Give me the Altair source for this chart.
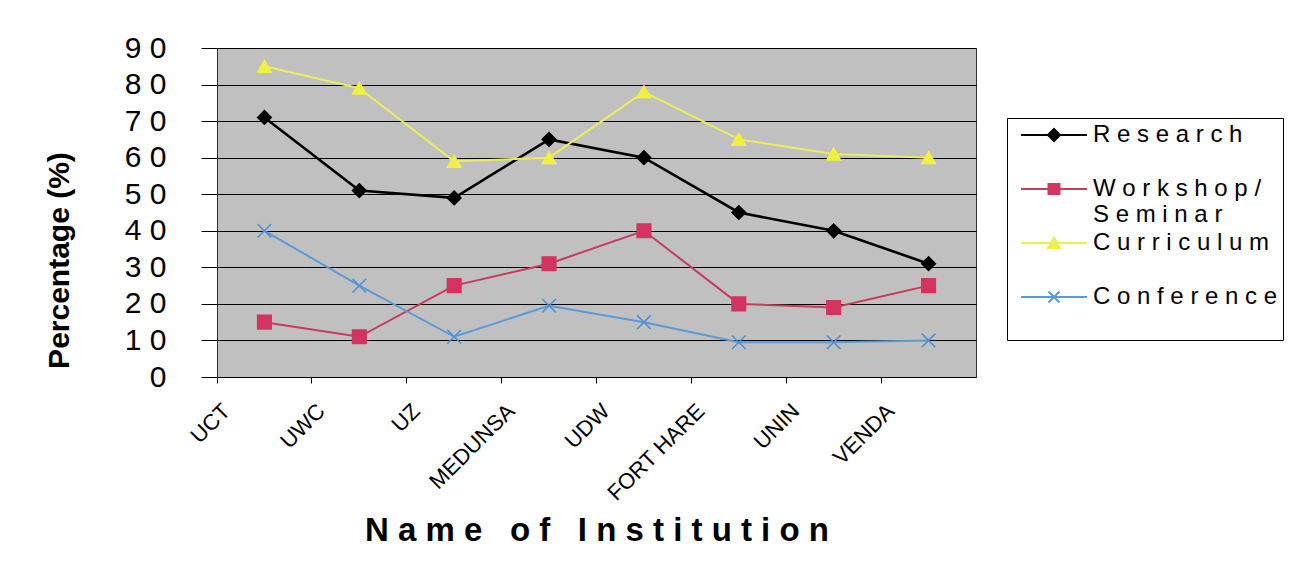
import json
import altair as alt
import pandas as pd

# ---- data ----
institutions = ["UCT", "UWC", "UZ", "MEDUNSA", "UDW", "FORT HARE", "UNIN", "VENDA"]
series_names = ["Research", "Workshop/ Seminar", "Curriculum", "Conference"]
research = [71, 51, 49, 65, 60, 45, 40, 31]
workshop = [15, 11, 25, 31, 40, 20, 19, 25]
curriculum = [85, 79, 59, 60, 78, 65, 61, 60]
conference = [40, 25, 11, 19.5, 15, 9.5, 9.5, 10]
y_ticks = [0, 10, 20, 30, 40, 50, 60, 70, 80, 90]

rows = []
for name, vals in zip(series_names, [research, workshop, curriculum, conference]):
    for inst, v in zip(institutions, vals):
        rows.append({"institution": inst, "series": name, "value": v})
df = pd.DataFrame(rows)

# ---- styles ----
FONT = "Liberation Sans"
line_colors = ["#000000", "#c63b5e", "#eded5a", "#5b9bd5"]
marker_colors = ["#000000", "#d2345f", "#f2f040", "#4a8fd6"]
marker_shapes = ["diamond", "square", "triangle-up", "M-1,-1L1,1M-1,1L1,-1"]
# legend glyphs: a short line with the series marker on it
legend_shapes = [
    "M-3,0H3M0,-0.55L0.55,0L0,0.55L-0.55,0Z",
    "M-3,0H3M-0.5,-0.45H0.5V0.45H-0.5Z",
    "M-3,0H3M0,-0.5L0.55,0.45H-0.55Z",
    "M-3,0H3M-0.5,-0.5L0.5,0.5M-0.5,0.5L0.5,-0.5",
]


def spaced(s):
    # wide letter spacing as in the reference; wider gap between words
    return " \u00a0 ".join(" ".join(list(w)) for w in s.split(" "))


label_map = {
    "Research": [spaced("Research"), ""],
    "Workshop/ Seminar": [spaced("Workshop/"), spaced("Seminar")],
    "Curriculum": [spaced("Curriculum"), ""],
    "Conference": [spaced("Conference"), ""],
}
legend_label_expr = json.dumps(label_map) + "[datum.label]"


def make_legend():
    return alt.Legend(title=None, labelExpr=legend_label_expr)


W, H = 759, 329

x_enc = alt.X(
    "institution:N",
    sort=institutions,
    scale=alt.Scale(type="band", paddingInner=0, paddingOuter=0),
    bandPosition=0.5,
    axis=alt.Axis(
        title=spaced("Name of Institution"),
        titleFont=FONT,
        titleFontSize=33,
        titleFontWeight="bold",
        titleColor="black",
        titleY=163,
        titleBaseline="alphabetic",
        bandPosition=0,
        labelAngle=-45,
        labelAlign="right",
        labelBaseline="top",
        labelFont=FONT,
        labelFontSize=22,
        labelColor="black",
        labelPadding=17,
        labelOffset=-45,
        tickSize=6,
        tickColor="black",
        domain=False,
        grid=False,
    ),
)

y_enc = alt.Y(
    "value:Q",
    scale=alt.Scale(domain=[0, 90], nice=False, zero=True),
    axis=alt.Axis(
        values=y_ticks,
        title="Percentage (%)",
        titleFont=FONT,
        titleFontSize=30,
        titleFontWeight="bold",
        titleColor="black",
        titleX=-158,
        titleY=212,
        titleBaseline="middle",
        labelExpr="join(split(datum.label, ''), ' ')",
        labelFont=FONT,
        labelFontSize=30,
        labelColor="black",
        labelPadding=35,
        tickSize=16,
        tickColor="black",
        domain=False,
        grid=True,
        gridColor="black",
        gridWidth=1,
    ),
)

lines = alt.Chart(df).mark_line().encode(
    x=x_enc,
    y=y_enc,
    color=alt.Color("series:N", scale=alt.Scale(domain=series_names, range=line_colors), legend=None),
    strokeWidth=alt.condition(alt.datum.series == "Research", alt.value(2.6), alt.value(2)),
    detail="series:N",
)

points = alt.Chart(df).mark_point(filled=True, strokeWidth=1.5, opacity=1).encode(
    x=x_enc,
    y=y_enc,
    fill=alt.Fill("series:N", scale=alt.Scale(domain=series_names, range=marker_colors), legend=None),
    stroke=alt.Stroke("series:N", scale=alt.Scale(domain=series_names, range=marker_colors), legend=None),
    shape=alt.Shape("series:N", scale=alt.Scale(domain=series_names, range=marker_shapes), legend=None),
    size=alt.value(185),
)

legend_layer = alt.Chart(df).transform_filter("false").mark_point(filled=True).encode(
    x=x_enc,
    y=y_enc,
    fill=alt.Fill("series:N", scale=alt.Scale(domain=series_names, range=marker_colors), legend=make_legend()),
    stroke=alt.Stroke("series:N", scale=alt.Scale(domain=series_names, range=line_colors), legend=make_legend()),
    shape=alt.Shape("series:N", scale=alt.Scale(domain=series_names, range=legend_shapes), legend=make_legend()),
)

chart = (
    alt.layer(lines, points, legend_layer)
    .resolve_scale(color="independent", fill="independent", stroke="independent", shape="independent")
    .properties(
        width=W,
        height=H,
        autosize=alt.AutoSizeParams(type="none"),
        padding={"left": 217, "top": 48, "right": 318, "bottom": 195},
        background="white",
    )
    .configure_view(fill="#c0c0c0", stroke="#303030", strokeWidth=1)
    .configure_legend(
        orient="none",
        legendX=790,
        legendY=70,
        strokeColor="black",
        fillColor="white",
        padding=5,
        symbolSize=484,
        symbolStrokeWidth=2,
        symbolOpacity=1,
        symbolOffset=30,
        labelOffset=27,
        labelFont=FONT,
        labelFontSize=24,
        labelColor="black",
        labelLimit=400,
        rowPadding=4,
    )
)

chart.save("out.html", embed_options={"renderer": "svg", "actions": False})
